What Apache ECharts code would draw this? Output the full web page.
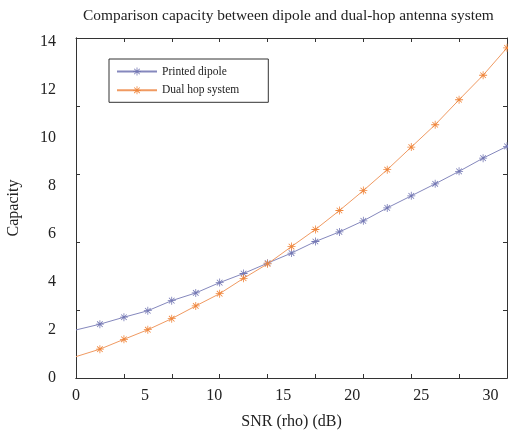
<!DOCTYPE html>
<html>
<head>
<meta charset="utf-8">
<script src="https://cdn.jsdelivr.net/npm/echarts@6/dist/echarts.min.js"></script>
<style>
html,body{margin:0;padding:0;background:#fff;}
#c{width:508px;height:434px;}
</style>
</head>
<body>
<div id="c"></div>
<script>
var titleText = 'Comparison capacity between dipole and dual-hop antenna system';
var xName = 'SNR (rho) (dB)';
var yName = 'Capacity';
var seriesNames = ['Printed dipole', 'Dual hop system'];
var snr = [0, 1.73, 3.47, 5.2, 6.93, 8.67, 10.4, 12.13, 13.87, 15.6, 17.33, 19.07, 20.8, 22.53, 24.27, 26.0, 27.73, 29.47, 31.2];
var dipole = [2.00, 2.24, 2.53, 2.80, 3.22, 3.54, 3.97, 4.35, 4.78, 5.20, 5.68, 6.08, 6.54, 7.08, 7.58, 8.08, 8.60, 9.15, 9.64];
var dualHop = [0.89, 1.20, 1.61, 2.01, 2.47, 3.00, 3.51, 4.15, 4.75, 5.47, 6.18, 6.97, 7.80, 8.67, 9.61, 10.54, 11.58, 12.60, 13.74];

var STAR = 'path://M0 45L100 45L100 55L0 55Z M45 0L55 0L55 100L45 100Z M18.5 11.5L88.5 81.5L81.5 88.5L11.5 18.5Z M81.5 11.5L88.5 18.5L18.5 88.5L11.5 81.5Z';
var FONT = 'Liberation Serif';
var AX = '#333333';

function pts(ys) {
  return ys.map(function (v, i) {
    var d = { value: [snr[i], v] };
    if (i === 0) d.symbol = 'none';
    return d;
  });
}

var tickAxisCommon = {
  type: 'value', show: true,
  axisLine: { show: true, onZero: false, lineStyle: { color: AX, width: 1 } },
  axisTick: { show: true, inside: true, length: 4, lineStyle: { color: AX, width: 1 } },
  axisLabel: { show: false }, splitLine: { show: false }
};

var chart = echarts.init(document.getElementById('c'), null, { renderer: 'canvas' });
chart.setOption({
  backgroundColor: '#ffffff',
  animation: false,
  title: {
    text: titleText, left: 78, top: 3,
    textStyle: { fontFamily: FONT, fontWeight: 'normal', fontSize: 15.4, color: '#222' }
  },
  legend: {
    left: 109, top: 59, orient: 'vertical',
    data: seriesNames,
    itemWidth: 40, itemHeight: 10, itemGap: 6.8,
    padding: [6.5, 29, 6, 7],
    borderColor: AX, borderWidth: 1,
    textStyle: { fontFamily: FONT, fontSize: 11.5, color: '#222', lineHeight: 10 }
  },
  grid: { left: 76, right: 1, top: 38, bottom: 56, containLabel: false, outerBoundsMode: 'none' },
  xAxis: [
    {
      type: 'value', min: 0, max: 31.2, interval: 5,
      name: xName, nameLocation: 'middle', nameGap: 36,
      nameTextStyle: { fontFamily: FONT, fontSize: 16, color: '#222' },
      axisLine: { show: true, onZero: false, lineStyle: { color: AX, width: 1 } },
      axisTick: { show: false },
      axisLabel: { showMaxLabel: false, fontFamily: FONT, fontSize: 16, color: '#222', margin: 10 },
      splitLine: { show: false }
    },
    Object.assign({}, tickAxisCommon, { position: 'bottom', min: 0, max: 9, interval: 1 }),
    Object.assign({}, tickAxisCommon, { position: 'top', min: 0, max: 9, interval: 1 })
  ],
  yAxis: [
    {
      type: 'value', min: 0, max: 14.15, interval: 2,
      name: yName, nameLocation: 'middle', nameGap: 54,
      nameTextStyle: { fontFamily: FONT, fontSize: 16, color: '#222' },
      axisLine: { show: true, onZero: false, lineStyle: { color: AX, width: 1 } },
      axisTick: { show: false },
      axisLabel: { showMaxLabel: false, fontFamily: FONT, fontSize: 16, color: '#222', margin: 20 },
      splitLine: { show: false }
    },
    Object.assign({}, tickAxisCommon, { position: 'left', min: 0, max: 5, interval: 1 }),
    Object.assign({}, tickAxisCommon, { position: 'right', min: 0, max: 5, interval: 1 })
  ],
  series: [
    {
      name: seriesNames[0], type: 'line', xAxisIndex: 0, yAxisIndex: 0,
      data: pts(dipole), symbol: STAR, symbolSize: 8, showAllSymbol: true,
      itemStyle: { color: '#7478b4' },
      lineStyle: { color: '#8588bd', width: 1 }
    },
    {
      name: seriesNames[1], type: 'line', xAxisIndex: 0, yAxisIndex: 0,
      data: pts(dualHop), symbol: STAR, symbolSize: 8, showAllSymbol: true,
      itemStyle: { color: '#f0863c' },
      lineStyle: { color: '#f09a62', width: 1 }
    }
  ]
});
</script>
</body>
</html>
